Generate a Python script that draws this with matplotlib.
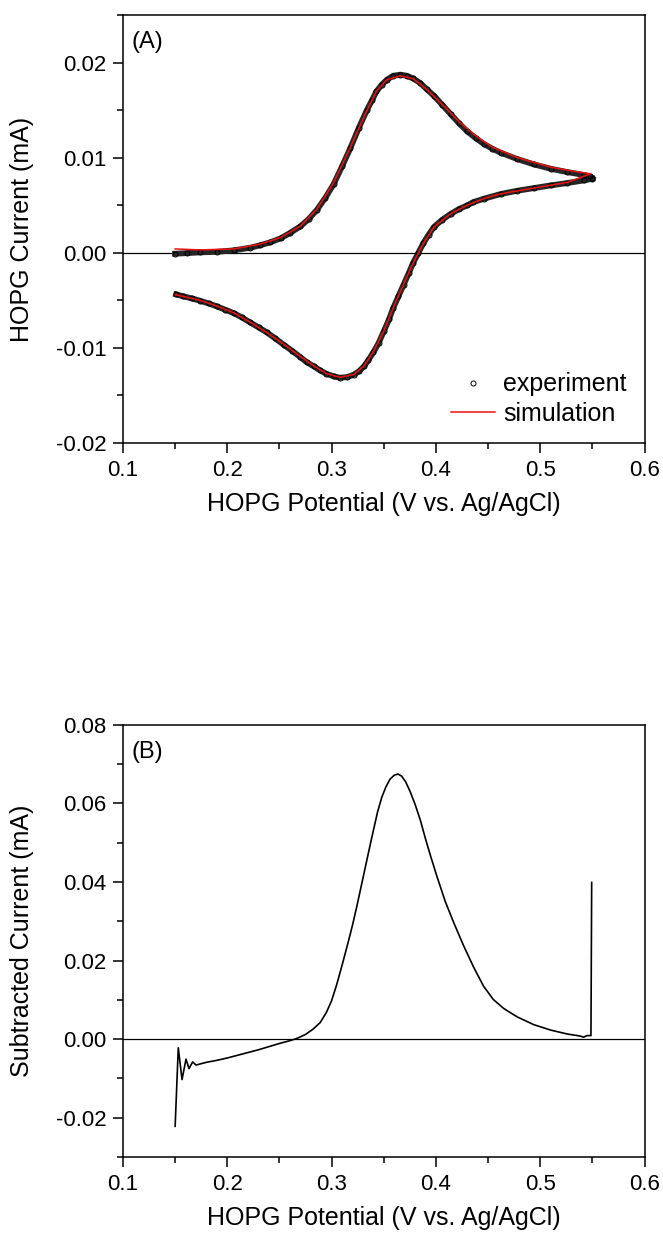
import numpy as np
from matplotlib import pyplot as plt
from matplotlib.ticker import MultipleLocator, FormatStrFormatter

plt.rcParams['font.family'] = ['Liberation Sans', 'DejaVu Sans']
plt.rcParams['axes.unicode_minus'] = False

# (A) experiment, forward scan
exp_fwd_V = [0.150, 0.161, 0.174, 0.190, 0.206, 0.222, 0.231, 0.241, 0.251, 0.260,
             0.270, 0.278, 0.286, 0.294, 0.302, 0.310, 0.318, 0.326, 0.334, 0.339,
             0.343, 0.348, 0.353, 0.359, 0.366, 0.372, 0.378, 0.385, 0.391, 0.398,
             0.406, 0.414, 0.422, 0.430, 0.438, 0.446, 0.454, 0.462, 0.478, 0.494,
             0.510, 0.526, 0.542, 0.548, 0.550]
exp_fwd_I = [-0.0001, -0.00004, 0.00004, 0.0001, 0.00025, 0.00053, 0.00077, 0.00109, 0.00151, 0.00207,
             0.00277, 0.00354, 0.00452, 0.00578, 0.00722, 0.00908, 0.01101, 0.01311, 0.01504, 0.01609,
             0.01696, 0.01767, 0.01819, 0.01861, 0.01872, 0.01861, 0.01833, 0.01784, 0.01721, 0.01651,
             0.01556, 0.01458, 0.01363, 0.01276, 0.01206, 0.01143, 0.01094, 0.01052, 0.00985, 0.00929,
             0.00883, 0.00848, 0.00817, 0.00803, 0.00785]

# (A) experiment, reverse scan
exp_rev_V = [0.550, 0.542, 0.526, 0.510, 0.494, 0.478, 0.462, 0.446, 0.436, 0.430,
             0.422, 0.414, 0.406, 0.398, 0.393, 0.388, 0.383, 0.378, 0.374, 0.369,
             0.364, 0.359, 0.355, 0.350, 0.345, 0.340, 0.335, 0.331, 0.326, 0.321,
             0.315, 0.308, 0.302, 0.295, 0.289, 0.283, 0.276, 0.270, 0.262, 0.254,
             0.246, 0.238, 0.230, 0.222, 0.214, 0.206, 0.198, 0.190, 0.182, 0.174,
             0.166, 0.158, 0.151]
exp_rev_I = [0.00778, 0.00761, 0.00733, 0.00708, 0.00680, 0.00652, 0.00617, 0.00568, 0.00533, 0.00498,
             0.00459, 0.00407, 0.00347, 0.00270, 0.00189, 0.00102, -0.00004, -0.00109, -0.00214, -0.00336,
             -0.00459, -0.00582, -0.00701, -0.00827, -0.00950, -0.01048, -0.01132, -0.01195, -0.01248, -0.01283,
             -0.01307, -0.01314, -0.01300, -0.01272, -0.01237, -0.01195, -0.01150, -0.01097, -0.01030, -0.00967,
             -0.00901, -0.00838, -0.00785, -0.00733, -0.00680, -0.00634, -0.00599, -0.00564, -0.00533, -0.00505,
             -0.00480, -0.00459, -0.00438]

# (A) simulation
sim_V = [0.150, 0.174, 0.206, 0.231, 0.251, 0.270, 0.286, 0.302, 0.318, 0.334,
         0.343, 0.353, 0.366, 0.378, 0.391, 0.406, 0.422, 0.438, 0.454, 0.478,
         0.510, 0.530, 0.548,
         0.526, 0.494, 0.462, 0.446, 0.430, 0.414, 0.398, 0.388, 0.378, 0.369,
         0.359, 0.350, 0.340, 0.331, 0.321, 0.308, 0.295, 0.283, 0.270, 0.254,
         0.238, 0.222, 0.206, 0.190, 0.174, 0.158, 0.150]
sim_I = [0.0004, 0.0003, 0.0004, 0.0009, 0.0016, 0.0028, 0.0046, 0.0074, 0.0111, 0.0150,
         0.0170, 0.0182, 0.0186, 0.0183, 0.0172, 0.0156, 0.0138, 0.0123, 0.0111, 0.0100,
         0.0090, 0.0086, 0.0083,
         0.0074, 0.0068, 0.0062, 0.0057, 0.0050, 0.0041, 0.0027, 0.0010, -0.0011, -0.0033,
         -0.0058, -0.0082, -0.0104, -0.0119, -0.0128, -0.0131, -0.0127, -0.0119, -0.0109, -0.0096,
         -0.0084, -0.0073, -0.0063, -0.0056, -0.0050, -0.0046, -0.0044]

# (B) subtracted current
sub_V = [0.150, 0.1530, 0.1566, 0.1604, 0.1633, 0.1668, 0.170, 0.180, 0.190, 0.200,
         0.210, 0.220, 0.230, 0.240, 0.250, 0.260, 0.267, 0.275, 0.282, 0.289,
         0.295, 0.300, 0.305, 0.310, 0.316, 0.320, 0.324, 0.328, 0.332, 0.336,
         0.340, 0.344, 0.348, 0.352, 0.356, 0.360, 0.3635, 0.367, 0.371, 0.375,
         0.380, 0.385, 0.390, 0.395, 0.401, 0.409, 0.417, 0.4265, 0.436, 0.4456,
         0.455, 0.465, 0.4776, 0.4936, 0.510, 0.526, 0.538, 0.5416, 0.5448, 0.5486,
         0.5493]
sub_I = [-0.0222, -0.0022, -0.0103, -0.0051, -0.0075, -0.0058, -0.0066, -0.0059, -0.0054, -0.0048,
         -0.0041, -0.0034, -0.0027, -0.0019, -0.0011, -0.0004, 0.0002, 0.0012, 0.0025, 0.0042,
         0.0068, 0.0098, 0.0140, 0.0188, 0.0248, 0.0290, 0.0336, 0.0385, 0.0434, 0.0483,
         0.0531, 0.0578, 0.0615, 0.0642, 0.0662, 0.0672, 0.0675, 0.0670, 0.0655, 0.0632,
         0.0598, 0.0558, 0.0510, 0.0465, 0.0414, 0.0350, 0.0297, 0.0238, 0.0184, 0.0135,
         0.0101, 0.0078, 0.0057, 0.0037, 0.0023, 0.0013, 0.0008, 0.0005, 0.0009, 0.0009,
         0.0399]

fig = plt.figure(figsize=(6.63, 12.35), dpi=100)
axA = fig.add_axes([0.1855, 0.6413, 0.7867, 0.3466])
axB = fig.add_axes([0.1855, 0.0632, 0.7867, 0.3498])


def style(ax, ymaj, ymin, ylabel, tag):
    ax.set_xlim(0.1, 0.6)
    ax.xaxis.set_major_locator(MultipleLocator(0.1))
    ax.xaxis.set_minor_locator(MultipleLocator(0.05))
    ax.yaxis.set_major_locator(MultipleLocator(ymaj))
    ax.yaxis.set_minor_locator(MultipleLocator(ymin))
    ax.xaxis.set_major_formatter(FormatStrFormatter('%.1f'))
    ax.yaxis.set_major_formatter(FormatStrFormatter('%.2f'))
    ax.tick_params(which='both', direction='out', top=False, right=False,
                   width=1.1, labelsize=16, pad=5)
    ax.tick_params(which='major', length=7)
    ax.tick_params(which='minor', length=4)
    for s in ax.spines.values():
        s.set_linewidth(1.1)
    ax.axhline(0, color='black', lw=0.9, zorder=1)
    ax.set_xlabel('HOPG Potential (V vs. Ag/AgCl)', fontsize=18, labelpad=8)
    ax.set_ylabel(ylabel, fontsize=18)
    ax.yaxis.set_label_coords(-0.17, 0.5)
    ax.text(0.017, 0.937, tag, transform=ax.transAxes, fontsize=17,
            ha='left', va='center')


# panel A
axA.plot(exp_fwd_V, exp_fwd_I, color='#262626', lw=4.2, zorder=2)
axA.plot(exp_rev_V, exp_rev_I, color='#262626', lw=4.2, zorder=2)
axA.plot(exp_fwd_V + exp_rev_V, exp_fwd_I + exp_rev_I, ls='none', marker='o', ms=3.6,
         mfc='none', mec='black', mew=0.7, zorder=3, label='experiment')
axA.plot(sim_V, sim_I, color='#ee1111', lw=1.1, zorder=4, label='simulation')
axA.set_ylim(-0.02, 0.025)
style(axA, 0.01, 0.005, 'HOPG Current (mA)', '(A)')
axA.legend(loc='lower right', bbox_to_anchor=(0.966, 0.04), frameon=False,
           fontsize=18, handlelength=1.75, handletextpad=0.35, labelspacing=0.22,
           borderaxespad=0, borderpad=0)

# panel B
axB.plot(sub_V, sub_I, color='black', lw=1.2, zorder=3)
axB.set_ylim(-0.03, 0.08)
style(axB, 0.02, 0.01, 'Subtracted Current (mA)', '(B)')

fig.savefig('out.png', dpi=100)
